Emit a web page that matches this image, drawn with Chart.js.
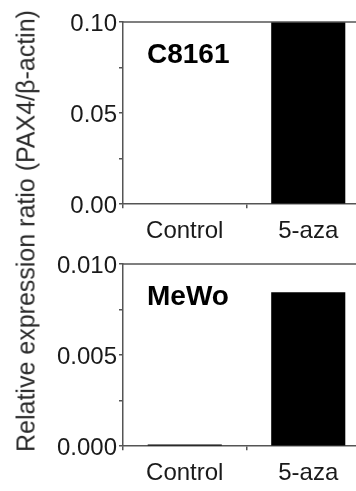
<!DOCTYPE html>
<html>
<head>
<meta charset="utf-8">
<script src="https://cdn.jsdelivr.net/npm/chart.js@4/dist/chart.umd.min.js"></script>
<style>
  html, body { margin: 0; padding: 0; background: #fff; width: 356px; height: 491px; overflow: hidden; position: relative; }
  .box { position: absolute; left: 0; width: 372px; }
  #b1 { top: 0; height: 255px; }
  #b2 { top: 242px; height: 255px; }
  #ytitle { position: absolute; left: 26px; top: 231px; transform: translate(-50%, -50%) rotate(-90deg);
            white-space: nowrap; font-family: 'Liberation Sans', Arial, Helvetica, sans-serif; font-size: 25px; color: #2a2a2a; }
</style>
</head>
<body>
<div class="box" id="b1"><canvas id="c1"></canvas></div>
<div class="box" id="b2"><canvas id="c2"></canvas></div>
<div id="ytitle">Relative expression ratio (PAX4/β-actin)</div>
<script>
// ---- data ----
const categories = ['Control', '5-aza'];
const panelNames = ['C8161', 'MeWo'];
const c8161Values = [0, 0.10];
const mewoValues = [0.0001, 0.00845];
const c8161Max = 0.10;
const c8161Step = 0.025;
const mewoMax = 0.010;
const mewoStep = 0.0025;
const yTitle = 'Relative expression ratio (PAX4/β-actin)';

const FONT = "'Liberation Sans', Arial, Helvetica, sans-serif";
const AXIS = '#555';
const TXT = '#1a1a1a';

const framePlugin = {
  id: 'frame',
  afterDraw(chart, args, opts) {
    const { ctx, chartArea } = chart;
    ctx.save();
    ctx.strokeStyle = AXIS;
    ctx.lineWidth = 1.5;
    ctx.beginPath();
    ctx.moveTo(chartArea.left, chartArea.top);
    ctx.lineTo(chartArea.right, chartArea.top);
    ctx.stroke();
    ctx.fillStyle = '#000';
    ctx.font = 'bold 28px ' + FONT;
    ctx.textBaseline = 'alphabetic';
    ctx.textAlign = 'left';
    ctx.fillText(opts.name, chartArea.left + 24, chartArea.top + 41);
    ctx.restore();
  }
};

function makeChart(id, name, values, max, step, digits) {
  return new Chart(document.getElementById(id), {
    type: 'bar',
    data: {
      labels: categories,
      datasets: [{
        data: values,
        backgroundColor: '#000',
        borderColor: '#222',
        borderWidth: 0,
        barPercentage: 0.6,
        categoryPercentage: 1.0
      }]
    },
    options: {
      responsive: true,
      maintainAspectRatio: false,
      animation: false,
      layout: { padding: { top: 22, right: 2, left: 0, bottom: 0 } },
      plugins: { legend: { display: false }, tooltip: { enabled: false }, frame: { name } },
      scales: {
        x: {
          grid: { display: true, drawOnChartArea: false, offset: true, tickLength: 4, color: AXIS, lineWidth: 1.5 },
          border: { display: true, color: AXIS, width: 1.5 },
          ticks: { color: TXT, font: { family: FONT, size: 24 }, padding: 9, maxRotation: 0 }
        },
        y: {
          min: 0, max: max,
          afterFit(scale) { scale.width = 123; },
          grid: { display: true, drawOnChartArea: false, tickLength: 4, color: AXIS, lineWidth: 1.5 },
          border: { display: true, color: AXIS, width: 1.5 },
          ticks: {
            stepSize: step,
            color: TXT,
            font: { family: FONT, size: 24 },
            padding: 2,
            labelOffset: 2,
            callback(value, index) { return index % 2 === 0 ? Number(value).toFixed(digits) : ''; }
          }
        }
      }
    },
    plugins: [framePlugin]
  });
}

document.getElementById('ytitle').textContent = yTitle;
makeChart('c1', panelNames[0], c8161Values, c8161Max, c8161Step, 2);
makeChart('c2', panelNames[1], mewoValues, mewoMax, mewoStep, 3);
</script>
</body>
</html>
